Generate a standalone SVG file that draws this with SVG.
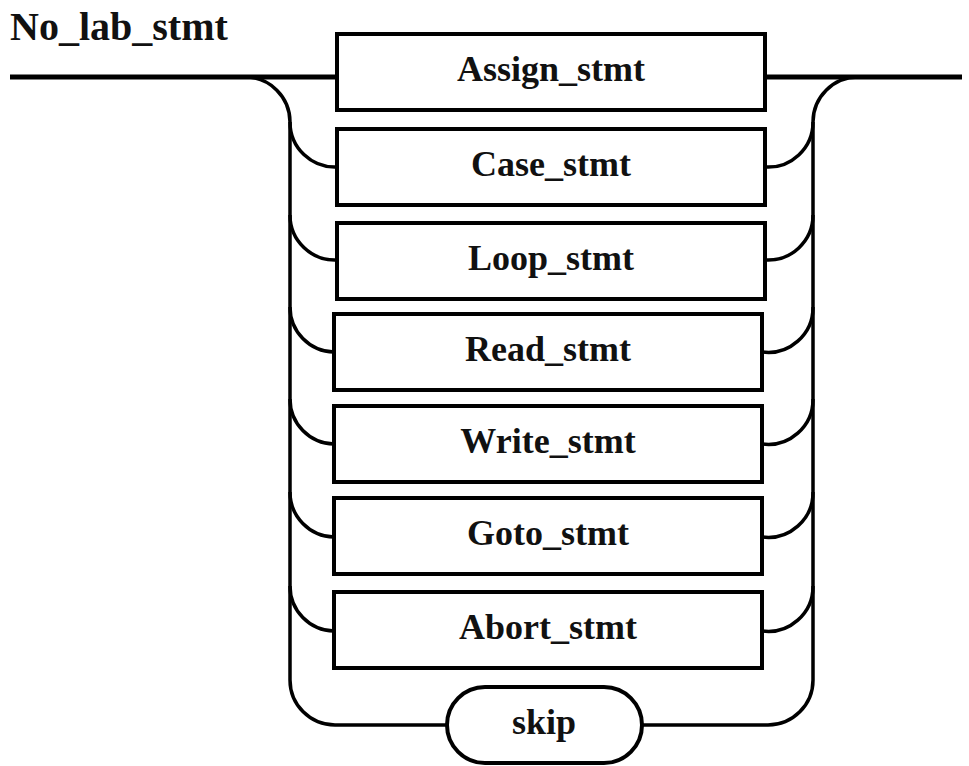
<svg xmlns="http://www.w3.org/2000/svg" width="969" height="766" viewBox="0 0 969 766">
<style>
.box{fill:#fff;stroke:#000;stroke-width:4}
.lbl{font-family:"Liberation Serif","Times New Roman",serif;font-weight:bold;font-size:36px;fill:#111;text-anchor:middle}
.title{font-family:"Liberation Serif","Times New Roman",serif;font-weight:bold;font-size:40px;fill:#111}
.main{fill:none;stroke:#000;stroke-width:5}
.conn{fill:none;stroke:#000;stroke-width:3.5}
</style>
<rect width="969" height="766" fill="#fff"/>
<text class="title" x="10" y="40">No_lab_stmt</text>
<g id="connectors">
<path class="main" d="M10,77 H337"/>
<path class="main" d="M765,77 H962"/>
<path class="conn" d="M245,77 A45,45 0 0 1 290,122 V680 A45,45 0 0 0 335,725 H447"/>
<path class="conn" d="M858,77 A45,45 0 0 0 813,122 V680 A45,45 0 0 1 768,725 H642"/>
<path class="conn" d="M290,122 A45,45 0 0 0 337,167"/>
<path class="conn" d="M290,215 A45,45 0 0 0 337,260"/>
<path class="conn" d="M290,307 A45,45 0 0 0 334,352"/>
<path class="conn" d="M290,399 A45,45 0 0 0 334,444"/>
<path class="conn" d="M290,492 A45,45 0 0 0 334,537"/>
<path class="conn" d="M290,586 A45,45 0 0 0 334,631"/>
<path class="conn" d="M765,167 A45,45 0 0 0 813,122"/>
<path class="conn" d="M765,260 A45,45 0 0 0 813,215"/>
<path class="conn" d="M762,352 A45,45 0 0 0 813,307"/>
<path class="conn" d="M762,444 A45,45 0 0 0 813,399"/>
<path class="conn" d="M762,537 A45,45 0 0 0 813,492"/>
<path class="conn" d="M762,631 A45,45 0 0 0 813,586"/>
</g>
<g id="assign"><rect class="box" x="337" y="34" width="428" height="76"/><text class="lbl" x="551" y="81">Assign_stmt</text></g>
<g id="case"><rect class="box" x="337" y="129" width="428" height="76"/><text class="lbl" x="551" y="176">Case_stmt</text></g>
<g id="loop"><rect class="box" x="337" y="223" width="428" height="76"/><text class="lbl" x="551" y="270">Loop_stmt</text></g>
<g id="read"><rect class="box" x="334" y="314" width="428" height="76"/><text class="lbl" x="548" y="361">Read_stmt</text></g>
<g id="write"><rect class="box" x="334" y="406" width="428" height="76"/><text class="lbl" x="548" y="453">Write_stmt</text></g>
<g id="goto"><rect class="box" x="334" y="498" width="428" height="76"/><text class="lbl" x="548" y="545">Goto_stmt</text></g>
<g id="abort"><rect class="box" x="334" y="592" width="428" height="76"/><text class="lbl" x="548" y="639">Abort_stmt</text></g>
<g id="skip"><rect class="box" x="447" y="687" width="195" height="76" rx="38" ry="38"/><text class="lbl" x="544" y="734">skip</text></g>
</svg>
